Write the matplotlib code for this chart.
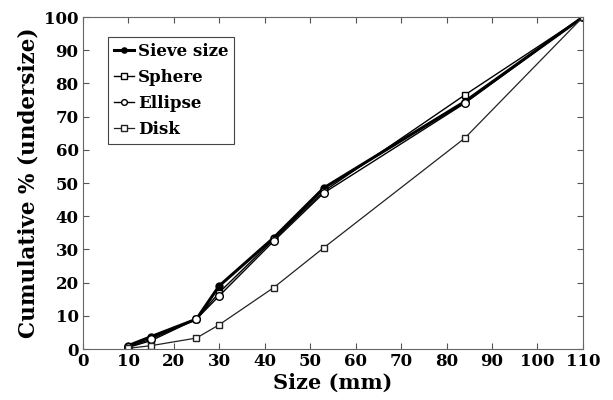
import matplotlib
matplotlib.use("Agg")
import matplotlib.pyplot as plt

plt.rcParams['font.family'] = 'DejaVu Serif'
plt.rcParams['font.weight'] = 'bold'

# Particle size distribution (cumulative % undersize)
size_mm = [10, 15, 25, 30, 42, 53, 84, 110]
sieve = [1, 3.7, 9, 19, 33.5, 48.5, 74.5, 100]
sphere = [0.5, 2.5, 9, 17, 33, 47.5, 76.5, 100]
ellipse = [0.5, 3, 9, 16, 32.5, 47, 74, 100]
disk = [0.2, 1, 3.3, 7.3, 18.5, 30.5, 63.5, 100]

fig = plt.figure(figsize=(6.13, 4.0), dpi=100)
ax = fig.add_axes([0.135, 0.1275, 0.816, 0.83])

ax.plot(size_mm, sieve, '-o', color='black', lw=2.2, ms=5, mfc='black', label='Sieve size')
ax.plot(size_mm, sphere, '-s', color='black', lw=1.0, ms=5, mfc='white', label='Sphere')
ax.plot(size_mm, ellipse, '-o', color='black', lw=1.0, ms=5.5, mfc='white', label='Ellipse')
ax.plot(size_mm, disk, '-s', color='#222222', lw=0.9, ms=5, mfc='white', label='Disk')

ax.set_xlim(0, 110)
ax.set_ylim(0, 100)
ax.set_xticks(range(0, 111, 10))
ax.set_yticks(range(0, 101, 10))
ax.tick_params(direction='in', top=True, right=True, labelsize=12, length=4,
               color='#555555', pad=3)
for s in ax.spines.values():
    s.set_color('#666666')
    s.set_linewidth(0.8)

ax.set_xlabel('Size (mm)', fontsize=15, fontweight='bold', labelpad=2)
ax.set_ylabel('Cumulative % (undersize)', fontsize=15.5, fontweight='bold', labelpad=3)

leg = ax.legend(loc='upper left', bbox_to_anchor=(0.05, 0.94), fontsize=12,
                handlelength=1.25, handletextpad=0.2, labelspacing=0.55,
                borderpad=0.35, borderaxespad=0, markerscale=0.75,
                fancybox=False, framealpha=1)
leg.get_frame().set_edgecolor('#444444')
leg.get_frame().set_linewidth(0.8)

fig.savefig('out.png', dpi=100)
